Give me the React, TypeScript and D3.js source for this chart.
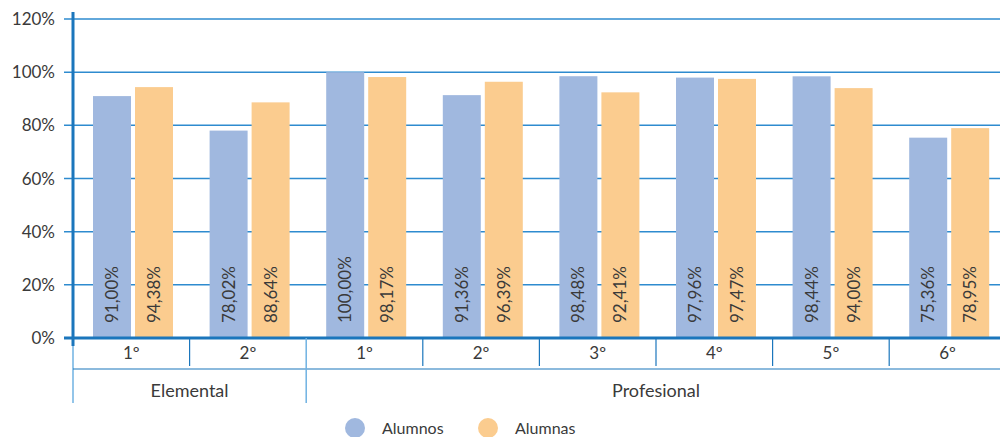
import React from "react";
import * as d3 from "d3";

const categories = ["1º", "2º", "1º", "2º", "3º", "4º", "5º", "6º"];
const groups = [
  { name: "Elemental", start: 0, end: 2 },
  { name: "Profesional", start: 2, end: 8 },
];
const seriesNames = ["Alumnos", "Alumnas"];
const alumnos = [91.0, 78.02, 100.0, 91.36, 98.48, 97.96, 98.44, 75.36];
const alumnas = [94.38, 88.64, 98.17, 96.39, 92.41, 97.47, 94.0, 78.95];
const yTicks = [0, 20, 40, 60, 80, 100, 120];
const colors = ["#A0B8DF", "#FBCC8F"];

const W = 1000;
const H = 437;
const FONT = "Lato, 'Open Sans', sans-serif";
const AXIS = "#1B76BC";
const GRID = "#2E8BCF";
const TEXT = "#3a3a3a";

const locale = d3.formatLocale({ decimal: ",", thousands: ".", grouping: [3], currency: ["", "€"] });
const fmt = locale.format(".2f");

export default function App() {
  const left = 73;
  const step = 116.6;
  const x = d3
    .scaleBand<number>()
    .domain(d3.range(categories.length))
    .range([left, left + step * categories.length])
    .padding(0);
  const x1 = d3.scaleBand<string>().domain(seriesNames).range([20, 100]).paddingInner(4 / 42);
  const y = d3.scaleLinear().domain([0, 120]).range([338, 19]);
  const series = [alumnos, alumnas];
  const base = y(0);
  const rowLine = 369;
  const bottom = 403;

  const boundary = (i: number) => (i >= categories.length ? W : (x(i) as number));

  return (
    <svg
      width={W}
      height={H}
      style={{ position: "absolute", left: 0, top: 0, background: "#fff" }}
      fontFamily={FONT}
    >
      {/* grid */}
      {yTicks.filter((t) => t > 0).map((t) => (
        <line key={t} x1={64} x2={W} y1={y(t)} y2={y(t)} stroke={GRID} strokeWidth={1.5} />
      ))}
      {/* y tick labels */}
      {yTicks.map((t) => (
        <text key={t} x={55} y={y(t) + 6} textAnchor="end" fontSize={17} fill={TEXT}>
          {t}%
        </text>
      ))}
      {/* bars */}
      {categories.map((c, i) =>
        series.map((s, si) => {
          const bx = (x(i) as number) + (x1(seriesNames[si]) as number);
          const bw = x1.bandwidth();
          return (
            <g key={`${i}-${si}`}>
              <rect x={bx} y={y(s[i])} width={bw} height={base - y(s[i])} fill={colors[si]} />
              <text
                transform={`translate(${bx + bw / 2 + 6},${base - 15}) rotate(-90)`}
                fontSize={17}
                fill={TEXT}
              >
                {fmt(s[i])}%
              </text>
            </g>
          );
        })
      )}
      {/* baseline */}
      <line x1={64} x2={W} y1={base} y2={base} stroke={AXIS} strokeWidth={3} />
      {/* vertical axis */}
      <line x1={left} x2={left} y1={12} y2={base + 8} stroke={AXIS} strokeWidth={3} />
      <line x1={left} x2={left} y1={base + 8} y2={bottom} stroke="#6FB2E2" strokeWidth={1.5} />
      {/* category row line */}
      <line x1={left} x2={W} y1={rowLine} y2={rowLine} stroke={AXIS} strokeWidth={1.2} />
      {/* category dividers */}
      {categories.map((c, i) =>
        i === 0 ? null : (
          <line
            key={i}
            x1={boundary(i)}
            x2={boundary(i)}
            y1={base}
            y2={groups.some((g) => g.start === i) ? bottom : rowLine - 3}
            stroke={groups.some((g) => g.start === i) ? "#6FB2E2" : AXIS}
            strokeWidth={groups.some((g) => g.start === i) ? 1.5 : 1.2}
          />
        )
      )}
      {/* category labels */}
      {categories.map((c, i) => (
        <text
          key={i}
          x={(x(i) as number) + x.bandwidth() / 2}
          y={359}
          textAnchor="middle"
          fontSize={17}
          fill={TEXT}
        >
          {c}
        </text>
      ))}
      {/* group labels */}
      {groups.map((g) => {
        const gx0 = x(g.start) as number;
        const gx1 = (x(g.end - 1) as number) + x.bandwidth();
        return (
          <text key={g.name} x={(gx0 + gx1) / 2} y={397} textAnchor="middle" fontSize={18} fill={TEXT}>
            {g.name}
          </text>
        );
      })}
      {/* legend */}
      {seriesNames.map((n, i) => {
        const lx = 355 + i * 133;
        return (
          <g key={n}>
            <circle cx={lx} cy={428} r={10} fill={colors[i]} />
            <text x={lx + 27} y={434} fontSize={16} fill={TEXT}>
              {n}
            </text>
          </g>
        );
      })}
    </svg>
  );
}
